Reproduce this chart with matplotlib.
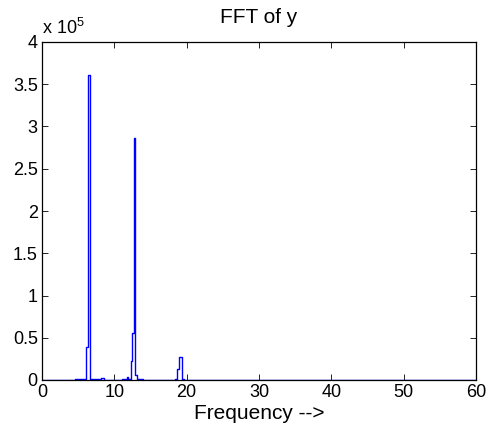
import matplotlib
matplotlib.use("Agg")
import matplotlib.pyplot as plt
from matplotlib.ticker import FuncFormatter

plt.rcParams['font.family'] = ['Liberation Sans', 'DejaVu Sans']
plt.rcParams['mathtext.fontset'] = 'custom'
plt.rcParams['mathtext.rm'] = 'Liberation Sans'

# Step (stairs) spectrum: value holds from freq[i] to freq[i+1]
freq = [0, 4.6, 5.4, 6.1, 6.3, 6.6, 7.0, 8.2, 8.6, 11.0, 11.7, 11.9, 12.25, 12.5,
        12.7, 12.9, 13.1, 13.6, 14.0, 18.4, 18.7, 19.0, 19.3, 19.6, 60]
mag = [0, 600, 1500, 39000, 361000, 1500, 600, 1800, 300, 800, 3000, 1200, 22000,
       56000, 286000, 6000, 600, 1200, 200, 1500, 13000, 27500, 1000, 0, 0]

xticks = [0, 10, 20, 30, 40, 50, 60]
yticks = [0, 0.5e5, 1e5, 1.5e5, 2e5, 2.5e5, 3e5, 3.5e5, 4e5]

fig = plt.figure(figsize=(4.9, 4.29), dpi=100)
ax = fig.add_axes([42/490, 1-380/429, (476-42)/490, (380-42)/429])
ax.plot(freq, mag, drawstyle='steps-post', color=(0, 0, 1), lw=1.0)
ax.set_xlim(0, 60)
ax.set_ylim(0, 4e5)
ax.set_xticks(xticks)
ax.set_yticks(yticks)
ax.yaxis.set_major_formatter(FuncFormatter(lambda v, p: '%g' % (v / 1e5)))
ax.tick_params(direction='in', top=True, right=True, length=4, width=0.6,
               labelsize=13, pad=3)
for s in ax.spines.values():
    s.set_linewidth(0.9)
ax.set_title('FFT of y', fontsize=15, pad=14)
ax.set_xlabel('Frequency -->', fontsize=15, labelpad=2)
ax.text(0.0, 1.012, r'x 10$^{5}$', transform=ax.transAxes, fontsize=13,
        ha='left', va='bottom')
fig.savefig('out.png', dpi=100)
